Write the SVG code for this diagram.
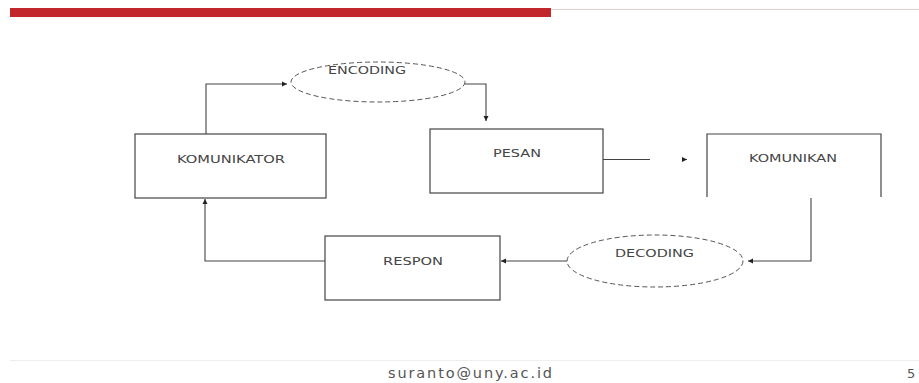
<svg xmlns="http://www.w3.org/2000/svg" width="919" height="383" viewBox="0 0 919 383">
<style>
.box{fill:#fff;stroke:#444;stroke-width:1.2}
.ell{fill:#fff;stroke:#555;stroke-width:1;stroke-dasharray:5 3}
.lbl{font-family:"DejaVu Sans",Verdana,sans-serif;font-size:10px;fill:#444;text-anchor:middle}
.con{fill:none;stroke:#444;stroke-width:1.1}
.foot{font-family:"DejaVu Sans",Verdana,sans-serif;fill:#555}
</style>
<defs>
<marker id="ah" markerWidth="6" markerHeight="6" refX="5" refY="3" orient="auto" markerUnits="userSpaceOnUse">
<path d="M0,0.5 L5,3 L0,5.5 Z" fill="#222"/>
</marker>
</defs>
<rect x="0" y="0" width="919" height="383" fill="#fff"/>
<g id="header">
<rect x="10" y="8" width="541" height="9" fill="#c1272d"/>
<line x1="551" y1="9.5" x2="919" y2="9.5" stroke="#e6cfd0" stroke-width="1"/>
</g>
<g id="connectors">
<path class="con" d="M206 134 V84 H287" marker-end="url(#ah)"/>
<path class="con" d="M465 84 H486 V121" marker-end="url(#ah)"/>
<path class="con" d="M603 159.5 H687" stroke="#999" stroke-dasharray="47 33" marker-end="url(#ah)"/>
<path class="con" d="M811 198 V261 H748" marker-end="url(#ah)"/>
<path class="con" d="M567 261 H501" marker-end="url(#ah)"/>
<path class="con" d="M325 261 H205 V199" marker-end="url(#ah)"/>
</g>
<g id="komunikator">
<rect class="box" x="135" y="134" width="191" height="64"/>
<text class="lbl" x="231" y="163" textLength="108" lengthAdjust="spacingAndGlyphs">KOMUNIKATOR</text>
</g>
<g id="encoding">
<ellipse class="ell" cx="378" cy="82" rx="87" ry="20"/>
<text class="lbl" x="367" y="74" textLength="78" lengthAdjust="spacingAndGlyphs">ENCODING</text>
</g>
<g id="pesan">
<rect class="box" x="430" y="129" width="173" height="64"/>
<text class="lbl" x="517" y="157" textLength="48" lengthAdjust="spacingAndGlyphs">PESAN</text>
</g>
<g id="komunikan">
<path class="box" d="M707 197 V134 H881 V197" fill="none"/>
<text class="lbl" x="793" y="162" textLength="88" lengthAdjust="spacingAndGlyphs">KOMUNIKAN</text>
</g>
<g id="decoding">
<ellipse class="ell" cx="655" cy="261" rx="88" ry="26"/>
<text class="lbl" x="654.5" y="257" textLength="79" lengthAdjust="spacingAndGlyphs">DECODING</text>
</g>
<g id="respon">
<rect class="box" x="325" y="236" width="175" height="64"/>
<text class="lbl" x="413" y="265" textLength="60" lengthAdjust="spacingAndGlyphs">RESPON</text>
</g>
<g id="footer">
<line x1="10" y1="360.5" x2="919" y2="360.5" stroke="#eee" stroke-width="1"/>
<text class="foot" x="388" y="378" font-size="14.5" textLength="164" lengthAdjust="spacing">suranto@uny.ac.id</text>
<text class="foot" x="907" y="378" font-size="13">5</text>
</g>
</svg>
